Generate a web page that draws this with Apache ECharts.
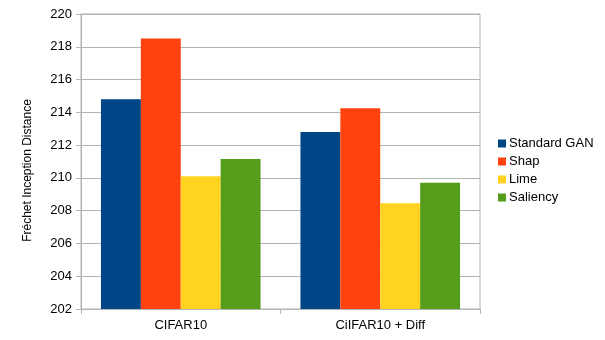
<!DOCTYPE html>
<html><head><meta charset="utf-8">
<script src="https://cdn.jsdelivr.net/npm/echarts@6/dist/echarts.min.js"></script>
<style>html,body{margin:0;padding:0;background:#fff}#c{width:605px;height:340px}</style>
</head><body><div id="c"></div>
<script>
const categories = ["CIFAR10", "CiIFAR10 + Diff"];
const seriesNames = ["Standard GAN", "Shap", "Lime", "Saliency"];
const standardGan = [214.8, 212.8];
const shap = [218.5, 214.25];
const lime = [210.1, 208.45];
const saliency = [211.15, 209.7];
const colors = ["#004586", "#ff420e", "#ffd320", "#579d1c"];
const yMin = 202, yMax = 220, yStep = 2;
const yAxisName = "Fréchet Inception Distance";

const values = [standardGan, shap, lime, saliency];
const font = "Liberation Sans, Arial, sans-serif";
const chart = echarts.init(document.getElementById('c'), null, {renderer: 'canvas'});
chart.setOption({
  animation: false,
  textStyle: {fontFamily: font},
  grid: {left: 81, right: 125, top: 14, bottom: 31, show: true, borderColor: '#b3b3b3', borderWidth: 1, containLabel: false},
  legend: {
    orient: 'vertical', left: 493, top: 132,
    itemWidth: 8, itemHeight: 8, itemGap: 5, icon: 'rect',
    textStyle: {fontSize: 13, color: '#000', fontFamily: font, padding: [0,0,0,-2]},
    data: seriesNames
  },
  xAxis: {
    type: 'category', data: categories,
    axisLine: {show: true, lineStyle: {color: '#b3b3b3'}},
    axisTick: {show: true, length: 5, lineStyle: {color: '#b3b3b3'}},
    axisLabel: {fontSize: 13, color: '#000', margin: 10, fontFamily: font}
  },
  yAxis: {
    type: 'value', min: yMin, max: yMax, interval: yStep,
    name: yAxisName, nameLocation: 'middle', nameGap: 47, nameRotate: 90,
    nameTextStyle: {fontSize: 12, color: '#000', fontFamily: font, padding: [0, 18, 0, 0]},
    axisLine: {show: true, lineStyle: {color: '#b3b3b3'}},
    axisTick: {show: true, length: 5, lineStyle: {color: '#b3b3b3'}},
    splitLine: {show: true, lineStyle: {color: '#b3b3b3'}},
    axisLabel: {fontSize: 13, color: '#000', margin: 9, fontFamily: font}
  },
  series: seriesNames.map((n, i) => ({
    name: n, type: 'bar', data: values[i],
    barGap: '0%', barCategoryGap: '20%',
    itemStyle: {color: colors[i]}
  }))
});
</script></body></html>
